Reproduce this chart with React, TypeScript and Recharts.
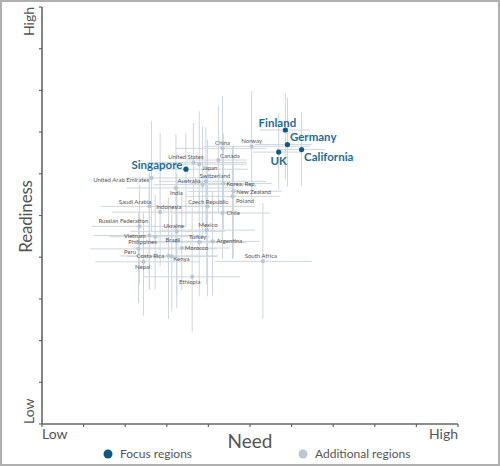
import React from 'react';
import { ScatterChart, Scatter, XAxis, YAxis, ErrorBar } from 'recharts';

// ---- Focus regions ----
const focusNames = ['Finland', 'Germany', 'UK', 'California', 'Singapore'];
const focusNeed = [5.85, 5.9, 5.69, 6.24, 3.46];
const focusReadiness = [7.05, 6.7, 6.52, 6.58, 6.11];
const focusNeedErr = [[0.61, 0.59], [0.78, 0.58], [0.61, 0.55], [0.6, 0.56], [0.8, 1.5]];
const focusReadinessErr = [[1.18, 0.88], [1.0, 1.12], [0.9, 0.94], [0.87, 0.89], [1.37, 0.87]];

// ---- Additional regions ----
const addNames = [
  'China', 'Norway', 'United States', 'Japan', 'Canada', 'Switzerland', 'Australia', 'Korea, Rep.',
  'New Zealand', 'Poland', 'India', 'United Arab Emirates', 'Saudi Arabia', 'Indonesia', 'Czech Republic',
  'Chile', 'Russian Federation', 'Ukraine', 'Mexico', 'Vietnam', 'Philippines', 'Brazil', 'Turkey',
  'Argentina', 'Morocco', 'Peru', 'Costa Rica', 'Kenya', 'Nepal', 'South Africa', 'Ethiopia',
];
const addNeed = [
  4.34, 5.04, 3.64, 3.78, 4.24, 3.94, 3.86, 4.36,
  4.6, 4.58, 3.22, 2.63, 2.58, 2.84, 3.98,
  4.34, 2.34, 3.24, 3.96, 2.58, 2.72, 3.24, 3.78,
  4.1, 3.36, 2.32, 3.04, 3.12, 2.44, 5.31, 3.61,
];
const addReadiness = [
  6.61, 6.66, 6.27, 6.23, 6.33, 5.82, 5.74, 5.77,
  5.58, 5.46, 5.66, 5.9, 5.22, 5.08, 5.22,
  5.06, 4.74, 4.62, 4.65, 4.52, 4.49, 4.38, 4.36,
  4.38, 4.22, 4.2, 4.03, 4.02, 3.89, 3.9, 3.53,
];
const addNeedErr = [
  [1.14, 1.06], [1.16, 1.4], [1.12, 1.28], [0.9, 1.15], [0.76, 0.68], [1.14, 1.46], [1.18, 1.22], [0.8, 1.16],
  [1.1, 1.16], [1.1, 1.14], [1.18, 1.38], [0.6, 1.5], [1.18, 1.38], [1.16, 1.76], [1.2, 1.14],
  [1.18, 1.14], [1.14, 1.14], [1.12, 1.16], [1.12, 1.16], [1.34, 1.3], [1.12, 1.32], [1.04, 1.2], [1.18, 1.14],
  [1.18, 1.14], [1.16, 1.16], [1.16, 1.88], [1.16, 1.2], [1.08, 1.08], [1.16, 1.36], [1.15, 1.17], [1.17, 1.15],
];
const addReadinessErr = [
  [1.2, 1.26], [1.27, 1.33], [0.9, 0.95], [1.0, 1.27], [1.27, 1.3], [1.3, 1.3], [1.2, 1.4], [1.1, 1.2],
  [1.6, 1.1], [1.5, 1.2], [1.7, 1.29], [1.3, 1.37], [2.0, 0.8], [1.3, 1.9], [2.16, 1.6],
  [1.1, 1.4], [1.4, 1.0], [1.84, 1.4], [1.3, 1.3], [1.3, 1.5], [1.26, 1.0], [1.3, 1.4], [1.3, 1.2],
  [1.3, 1.2], [1.0, 1.3], [1.3, 0.86], [1.51, 1.4], [1.32, 1.2], [1.29, 1.18], [1.38, 1.4], [1.33, 1.8],
];

const axisTicks = [0, 1, 2, 3, 4, 5, 6, 7, 8, 9, 10];
const axisEndLabels = ['Low', 'High'];
const xTitle = 'Need';
const yTitle = 'Readiness';
const legendLabels = ['Focus regions', 'Additional regions'];

// label placement relative to dot: [anchor, dx, dy]
const focusLabelPos: Record<string, [string, number, number]> = {
  Finland: ['middle', -8, -3],
  Germany: ['start', 2.5, -4],
  UK: ['middle', 0, 12.5],
  California: ['start', 2.5, 11.5],
  Singapore: ['end', -3.5, 0],
};
const addLabelPos: Record<string, [string, number, number]> = {
  China: ['middle', 0, -3.5],
  Norway: ['middle', 0, -3.5],
  'United States': ['middle', -7.5, -4],
  Japan: ['start', 3, 6],
  Canada: ['start', 1.7, -2],
  Switzerland: ['middle', 9, -3],
  Australia: ['end', -2, -1.5],
  'Korea, Rep.': ['start', 3, 2.5],
  'New Zealand': ['start', 3, 2.3],
  Poland: ['start', 3.4, 6.3],
  India: ['middle', 0.5, 7.3],
  'United Arab Emirates': ['end', -2.3, 4.3],
  'Saudi Arabia': ['end', 2, -2.2],
  Indonesia: ['start', -4, -2.7],
  'Czech Republic': ['middle', 0.7, -2.2],
  Chile: ['start', 4, 2.2],
  'Russian Federation': ['middle', -16, -3.2],
  Ukraine: ['middle', -3, -3.7],
  Mexico: ['middle', 1.3, -3.2],
  Vietnam: ['end', -3.6, 2],
  Philippines: ['end', 1.7, 7.2],
  Brazil: ['middle', -4, 0.5],
  Turkey: ['middle', -1.6, -2.7],
  Argentina: ['start', 4, 2],
  Morocco: ['start', 3, 2.2],
  Peru: ['end', -2.3, 4.9],
  'Costa Rica': ['end', -4.3, 2.2],
  Kenya: ['start', 1.5, 4.8],
  Nepal: ['middle', -0.8, 7.2],
  'South Africa': ['middle', -2, -3.2],
  Ethiopia: ['middle', -2.5, 7.2],
};

const build = (names: string[], xs: number[], ys: number[], ex: number[][], ey: number[][]) =>
  names.map((name, i) => ({ name, x: xs[i], y: ys[i], ex: ex[i], ey: ey[i] }));

const focusData = build(focusNames, focusNeed, focusReadiness, focusNeedErr, focusReadinessErr);
const addData = build(addNames, addNeed, addReadiness, addNeedErr, addReadinessErr);

const FONT = 'Lato, "Open Sans", sans-serif';
const FOCUS = '#0e5a82';
const FOCUS_TXT = '#1f6d95';
const ADD = '#b9c7d2';
const ERR = '#cdd6de';
const AXIS = '#666666';
const TXT = '#555555';

const emptyShape = () => <g />;

const focusShape = (props: any) => {
  const { cx, cy, payload } = props;
  const lp = focusLabelPos[payload.name] || ['start', 4, 0];
  return (
    <g>
      <circle cx={cx} cy={cy} r={2.6} fill={FOCUS} />
      <text x={cx + lp[1]} y={cy + lp[2]} textAnchor={lp[0] as any} fontSize={11.5} fontWeight={700}
        fill={FOCUS_TXT} fontFamily={FONT}>{payload.name}</text>
    </g>
  );
};

const addShape = (props: any) => {
  const { cx, cy, payload } = props;
  const lp = addLabelPos[payload.name] || ['start', 3, 0];
  return (
    <g>
      <circle cx={cx} cy={cy} r={2.1} fill={ADD} />
      <text x={cx + lp[1]} y={cy + lp[2]} textAnchor={lp[0] as any} fontSize={6} fill={TXT}
        fontFamily={FONT}>{payload.name}</text>
    </g>
  );
};

const XTick = (props: any) => {
  const { x, y, payload } = props;
  if (payload.value === 0)
    return <text x={x} y={y + 10} textAnchor="start" fontSize={14} fill={TXT} fontFamily={FONT}>{axisEndLabels[0]}</text>;
  if (payload.value === 10)
    return <text x={x} y={y + 10} textAnchor="end" fontSize={14} fill={TXT} fontFamily={FONT}>{axisEndLabels[1]}</text>;
  return <g />;
};

const YTick = (props: any) => {
  const { x, y, payload } = props;
  const bx = x - 3;
  if (payload.value === 0)
    return <text x={bx} y={y} transform={`rotate(-90, ${bx}, ${y})`} textAnchor="start" fontSize={14} fill={TXT} fontFamily={FONT}>{axisEndLabels[0]}</text>;
  if (payload.value === 10)
    return <text x={bx} y={y} transform={`rotate(-90, ${bx}, ${y})`} textAnchor="end" fontSize={14} fill={TXT} fontFamily={FONT}>{axisEndLabels[1]}</text>;
  return <g />;
};

export default function App() {
  return (
    <div style={{ position: 'absolute', left: 0, top: 0, width: 500, height: 466, background: '#fff' }}>
      <ScatterChart width={500} height={466} margin={{ top: 7, right: 42, bottom: 12, left: 0 }}>
        <XAxis type="number" dataKey="x" domain={[0, 10]} ticks={axisTicks} height={30}
          axisLine={{ stroke: AXIS, strokeWidth: 1.6 }} tickLine={{ stroke: AXIS, strokeWidth: 1.2 }}
          tickSize={3} tick={<XTick />} interval={0} allowDataOverflow />
        <YAxis type="number" dataKey="y" domain={[0, 10]} ticks={axisTicks} width={42}
          axisLine={{ stroke: AXIS, strokeWidth: 1.6 }} tickLine={{ stroke: AXIS, strokeWidth: 1.2 }}
          tickSize={3} tick={<YTick />} interval={0} allowDataOverflow />
        <Scatter data={addData} shape={emptyShape} isAnimationActive={false}>
          <ErrorBar dataKey="ex" direction="x" width={0} stroke={ERR} strokeWidth={1} isAnimationActive={false} />
          <ErrorBar dataKey="ey" direction="y" width={0} stroke={ERR} strokeWidth={1} isAnimationActive={false} />
        </Scatter>
        <Scatter data={focusData} shape={emptyShape} isAnimationActive={false}>
          <ErrorBar dataKey="ex" direction="x" width={0} stroke={ERR} strokeWidth={1} isAnimationActive={false} />
          <ErrorBar dataKey="ey" direction="y" width={0} stroke={ERR} strokeWidth={1} isAnimationActive={false} />
        </Scatter>
        <Scatter data={addData} shape={addShape} isAnimationActive={false} />
        <Scatter data={focusData} shape={focusShape} isAnimationActive={false} />
      </ScatterChart>
      <svg width={500} height={466} style={{ position: 'absolute', left: 0, top: 0, pointerEvents: 'none' }}>
        <text x={250} y={448} textAnchor="middle" fontSize={19} fill={TXT} fontFamily={FONT}>{xTitle}</text>
        <text x={32} y={216.5} transform="rotate(-90, 32, 216.5)" textAnchor="middle" fontSize={17} letterSpacing={-0.2} fill={TXT} fontFamily={FONT}>{yTitle}</text>
        <circle cx={108} cy={454} r={4.5} fill={FOCUS} />
        <text x={120} y={458} fontSize={12} fill={TXT} fontFamily={FONT}>{legendLabels[0]}</text>
        <circle cx={303} cy={454} r={4.5} fill={ADD} />
        <text x={315} y={458} fontSize={12} fill={TXT} fontFamily={FONT}>{legendLabels[1]}</text>
      </svg>
      <div style={{ position: 'absolute', left: 0, top: 0, width: 500, height: 466, boxSizing: 'border-box', border: '2px solid #b0b0b0', pointerEvents: 'none' }} />
    </div>
  );
}
